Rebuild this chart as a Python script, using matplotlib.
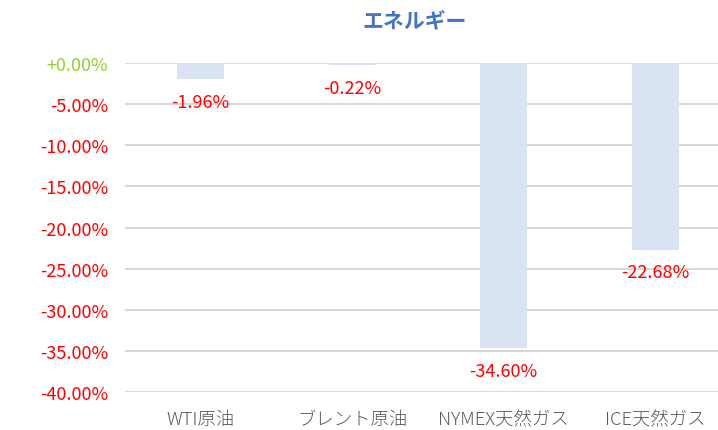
# -*- coding: utf-8 -*-
import matplotlib
matplotlib.use('Agg')
import matplotlib.pyplot as plt
from matplotlib.ticker import FuncFormatter

plt.rcParams['font.family'] = ['Noto Sans CJK JP', 'DejaVu Sans']

# data
categories = ['WTI原油', 'ブレント原油', 'NYMEX天然ガス', 'ICE天然ガス']
changes = [-1.96, -0.22, -34.60, -22.68]
yticks = [0, -5, -10, -15, -20, -25, -30, -35, -40]

fig = plt.figure(figsize=(7.18, 4.31), dpi=100)
# axes run a little past the right edge like the original
ax = fig.add_axes([125 / 718, 1 - 393 / 431, 606 / 718, 329 / 431])

x = range(len(categories))
ax.bar(x, changes, width=0.31, color='#DAE3F3', zorder=3)

for i, v in enumerate(changes):
    ax.annotate(f'{v:.2f}%', (i, v), xytext=(0, -16.5), textcoords='offset points',
                ha='center', va='center', color='#FF0000', fontsize=13)

ax.set_xlim(-0.5, 3.5)
ax.set_ylim(-40, 0)
ax.set_yticks(yticks)
ax.yaxis.set_major_formatter(FuncFormatter(lambda v, p: f'{v:+.2f}%' if v >= 0 else f'{v:.2f}%'))
ax.set_xticks(list(x))
ax.set_xticklabels(categories, fontsize=13.2, color='#595959', fontweight='light')
ax.tick_params(axis='y', labelsize=13, length=0, pad=12)
ax.tick_params(axis='x', length=0, pad=13)
for lbl in ax.get_yticklabels():
    lbl.set_color('#9ACD32' if lbl.get_text().startswith('+') else '#FF0000')

ax.grid(axis='y', color='#D9D9D9', linewidth=1.5, zorder=0)
ax.set_axisbelow(True)
for s in ax.spines.values():
    s.set_visible(False)

fig.text(415 / 718, 1 - 21 / 431, 'エネルギー', ha='center', va='center',
         color='#4472C4', fontsize=15, fontweight='bold')

plt.savefig('out.png', dpi=100)
